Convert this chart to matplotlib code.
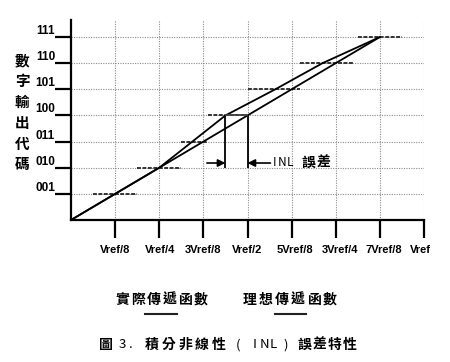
"""INL (integral non-linearity) transfer characteristic of a 3-bit ADC."""
import matplotlib
matplotlib.use("Agg")
import matplotlib.pyplot as plt
import matplotlib.transforms as mtransforms
from matplotlib.lines import Line2D

W, H = 450, 362

# x in units of Vref/8, y in output code
x_ticks = [1, 2, 3, 4, 5, 6, 7, 8]
x_labels = ["Vref/8", "Vref/4", "3Vref/8", "Vref/2", "5Vref/8", "3Vref/4", "7Vref/8", "Vref"]
y_ticks = [1, 2, 3, 4, 5, 6, 7]
y_labels = ["001", "010", "011", "100", "101", "110", "111"]

ideal_x = [0, 7]
ideal_y = [0, 7]
actual_x = [0, 2, 3.5, 4.63, 5.7, 7]
actual_y = [0, 2, 4, 5, 6, 7]

# code widths of the actual converter
step_code = [1, 2, 3, 4, 5, 6, 7]
step_lo = [0.5, 1.5, 2.5, 3.1, 4.0, 5.2, 6.5]
step_hi = [1.5, 2.5, 3.1, 4.0, 5.2, 6.4, 7.5]

# INL error marker (actual vs ideal transition into code 100)
inl_x = [3.5, 4.0]
inl_top = 4
inl_bottom = 2
inl_arrow_y = 2.18

CJK = ["Noto Sans CJK TC", "DejaVu Sans"]
LAT = ["Liberation Sans", "DejaVu Sans"]


def fx(px):
    return px / W


def fy(py):
    return 1 - py / H


fig = plt.figure(figsize=(W / 100, H / 100), dpi=100)
fig.patch.set_facecolor("white")
ax = fig.add_axes([fx(71), fy(220), (424 - 71) / W, (220 - 20) / H])

ax.set_xlim(0, 8)
ax.set_ylim(0, 200 / 26.14)

for s in ["top", "right"]:
    ax.spines[s].set_visible(False)
for s in ["left", "bottom"]:
    ax.spines[s].set_linewidth(1.6)

ax.set_xticks(x_ticks)
ax.set_xticklabels(x_labels, fontfamily=LAT, fontweight="bold", fontsize=8)
ax.set_yticks(y_ticks)
ax.set_yticklabels(y_labels, fontfamily=LAT, fontweight="bold", fontsize=8.5)
ax.tick_params(axis="x", direction="out", length=13, width=1.6, pad=5)
ax.tick_params(axis="y", direction="out", length=11.5, width=1.6, pad=0)
for lbl in ax.get_yticklabels():
    lbl.set_verticalalignment("bottom")

# the scanned labels sit a few pixels off their ticks on the right half
label_shift = [0, 1, 0, 0, 3, 4, 4, -4]
for lbl, dx in zip(ax.get_xticklabels(), label_shift):
    off = mtransforms.ScaledTranslation(dx / 100, 0, fig.dpi_scale_trans)
    lbl.set_transform(lbl.get_transform() + off)

ax.grid(True, linestyle=(0, (1, 1.2)), color="#8a8a8a", linewidth=0.8)
ax.set_axisbelow(True)

# code width segments
ax.hlines(step_code, step_lo, step_hi, colors="#333333",
          linestyles=(0, (2, 0.8)), linewidth=1.4)

ax.plot(ideal_x, ideal_y, color="black", linewidth=1.3)
ax.plot(actual_x, actual_y, color="black", linewidth=1.3)

# INL bracket
ax.vlines(inl_x, inl_bottom, inl_top, colors="black", linewidth=1.3)
ax.hlines(inl_top, inl_x[0], inl_x[1], colors="#444444", linewidth=1.3)
arrow = dict(arrowstyle="-|>", color="black", lw=1.2, mutation_scale=11,
             shrinkA=0, shrinkB=0)
ax.annotate("", xy=(inl_x[0], inl_arrow_y), xytext=(inl_x[0] - 0.42, inl_arrow_y),
            arrowprops=arrow)
ax.annotate("", xy=(inl_x[1], inl_arrow_y), xytext=(inl_x[1] + 0.52, inl_arrow_y),
            arrowprops=arrow)


def spaced(s, x0, y, pitch, size=9, weight="bold", vertical=False):
    for i, ch in enumerate(s):
        x = x0 if vertical else x0 + i * pitch
        yy = y + i * pitch if vertical else y
        fig.text(fx(x), fy(yy), ch, ha="center", va="center",
                 fontfamily=CJK, fontsize=size, fontweight=weight)


spaced("INL", 274, 163, 8, size=8.5, weight="normal")
spaced("誤差", 308, 163, 16, size=10)

# y axis title
spaced("數字輸出代碼", 22, 60, 20.9, size=10.5, vertical=True)

# legend
spaced("實際傳遞函數", 122, 300, 15.8, size=10)
spaced("理想傳遞函數", 250, 300, 16, size=10)
for x0, x1 in [(145, 177), (275, 306)]:
    fig.add_artist(Line2D([fx(x0), fx(x1)], [fy(314), fy(314)],
                          color="#222222", linewidth=1.5))

# caption
spaced("圖", 106, 345, 16, size=10)
spaced("3.", 122, 345, 9, size=9.5, weight="normal")
spaced("積分非線性", 152, 345, 16.7, size=10)
spaced("(", 238, 345, 9, size=9.5, weight="normal")
spaced("INL", 255, 345, 9, size=9.5, weight="normal")
spaced(")", 286, 345, 9, size=9.5, weight="normal")
spaced("誤差特性", 305, 345, 15, size=10)

fig.savefig("out.png", dpi=100)
